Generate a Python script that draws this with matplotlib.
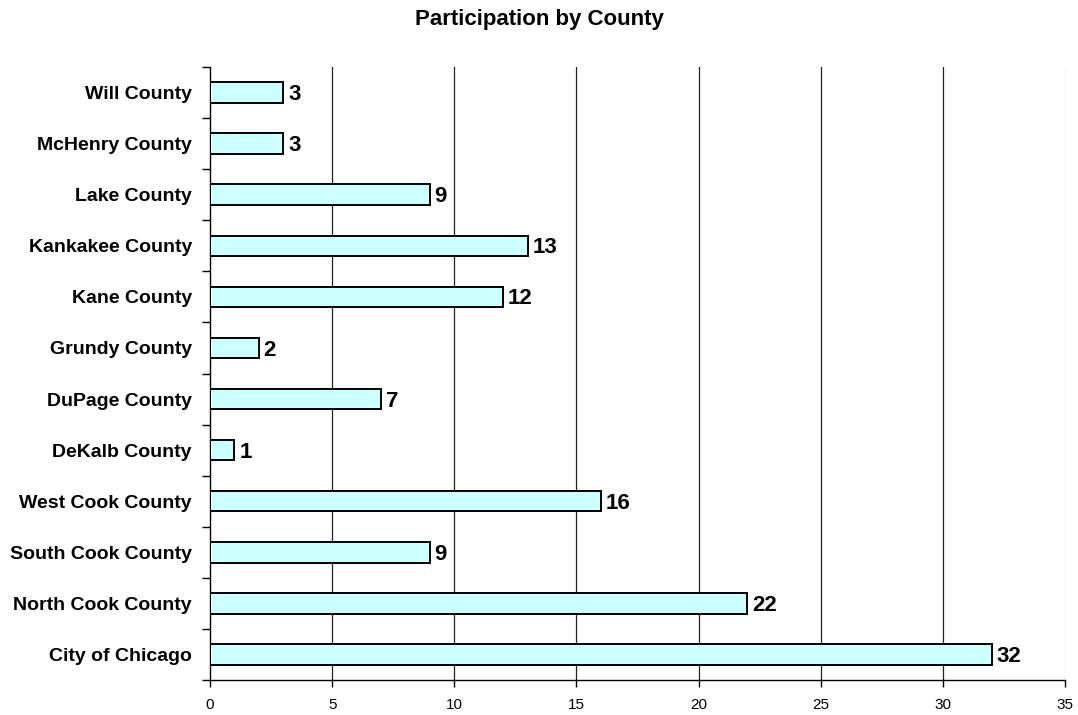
import matplotlib.pyplot as plt
import numpy as np

plt.rcParams['font.family'] = ['Liberation Sans', 'DejaVu Sans']

counties = ['City of Chicago', 'North Cook County', 'South Cook County', 'West Cook County',
            'DeKalb County', 'DuPage County', 'Grundy County', 'Kane County',
            'Kankakee County', 'Lake County', 'McHenry County', 'Will County']
counts = [32, 22, 9, 16, 1, 7, 2, 12, 13, 9, 3, 3]
xticks = [0, 5, 10, 15, 20, 25, 30, 35]

fig = plt.figure(figsize=(10.78, 7.15), dpi=100)
ax = fig.add_axes([210/1078, 1 - 680/715, (1065 - 210)/1078, (680 - 67)/715])

y = np.arange(len(counties))
ax.barh(y, counts, height=0.4, color='#ccffff', edgecolor='black', linewidth=1.4, zorder=3)

for yi, v in zip(y, counts):
    ax.text(v + 0.2, yi - 0.04, str(v), ha='left', va='center', fontsize=16, fontweight='bold', zorder=4)

# grid lines
for xv in xticks[1:-1]:
    ax.axvline(xv, color='#222222', linewidth=0.9, zorder=1)
ax.axvline(35, color='#cccccc', linewidth=0.9, zorder=1)

ax.set_xlim(0, 35)
ax.set_ylim(-0.5, len(counties) - 0.5)
ax.set_xticks(xticks)
ax.set_xticklabels([str(t) for t in xticks], fontsize=11)
ax.tick_params(axis='x', direction='out', length=5, width=1, pad=8)

ax.set_yticks(y)
ax.set_yticklabels(counties, fontsize=14, fontweight='bold')
ax.tick_params(axis='y', which='major', length=0, pad=13)
ax.set_yticks(np.arange(-0.5, len(counties), 1), minor=True)
ax.tick_params(axis='y', which='minor', direction='out', length=6, width=1)

for s in ['top', 'right']:
    ax.spines[s].set_visible(False)
ax.spines['left'].set_linewidth(1)
ax.spines['bottom'].set_linewidth(1)

fig.suptitle('Participation by County', x=0.5, y=1 - 20/715, va='center',
             fontsize=16, fontweight='bold')

fig.savefig('out.png', dpi=100)
